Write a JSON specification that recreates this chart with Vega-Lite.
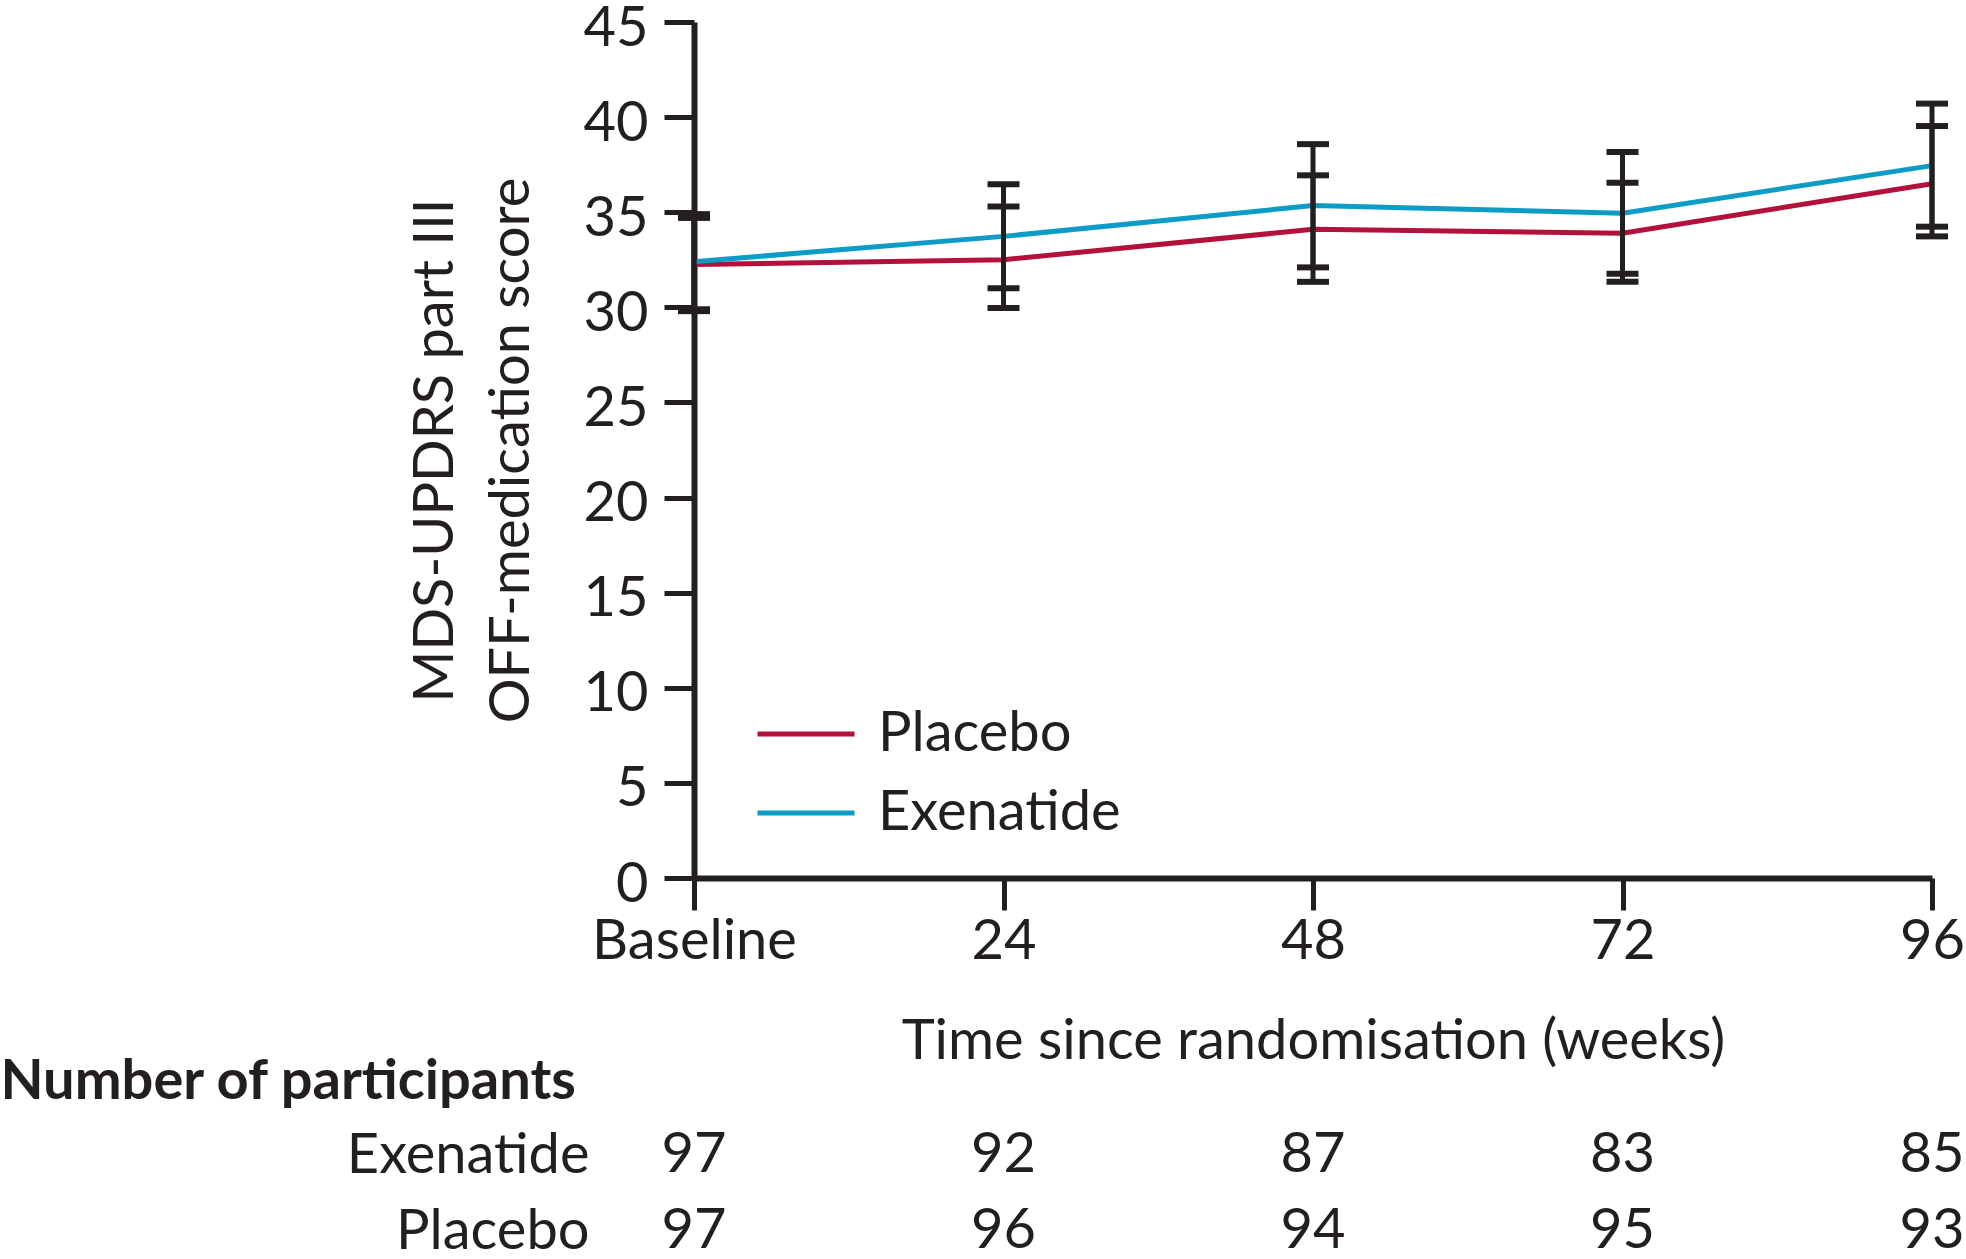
{
  "$schema": "https://vega.github.io/schema/vega-lite/v6.json",
  "padding": {"top": 0, "left": 0, "right": 0, "bottom": 0},
  "background": "white",
  "spacing": 277,
  "bounds": "flush",
  "config": {
    "font": "Lato",
    "view": {"stroke": null},
    "axis": {
      "labelFont": "Lato",
      "titleFont": "Lato",
      "labelFontSize": 56,
      "titleFontSize": 56,
      "labelColor": "#231f20",
      "titleColor": "#231f20",
      "titleFontWeight": "normal",
      "domainColor": "#231f20",
      "tickColor": "#231f20",
      "labelLimit": 0,
      "titleLimit": 0,
      "grid": false
    },
    "legend": {"labelLimit": 0}
  },
  "vconcat": [
    {
      "width": 1238,
      "height": 856,
      "data": {
        "values": [
          {"group": "Placebo", "week": 0, "mean": 32.25, "lo": 29.8, "hi": 34.7},
          {"group": "Placebo", "week": 24, "mean": 32.5, "lo": 29.97, "hi": 35.3},
          {"group": "Placebo", "week": 48, "mean": 34.1, "lo": 31.34, "hi": 36.94},
          {"group": "Placebo", "week": 72, "mean": 33.9, "lo": 31.34, "hi": 36.55},
          {"group": "Placebo", "week": 96, "mean": 36.5, "lo": 33.73, "hi": 39.53},
          {"group": "Exenatide", "week": 0, "mean": 32.4, "lo": 29.9, "hi": 34.9},
          {"group": "Exenatide", "week": 24, "mean": 33.73, "lo": 31.0, "hi": 36.47},
          {"group": "Exenatide", "week": 48, "mean": 35.35, "lo": 32.1, "hi": 38.58},
          {"group": "Exenatide", "week": 72, "mean": 34.95, "lo": 31.76, "hi": 38.17},
          {"group": "Exenatide", "week": 96, "mean": 37.45, "lo": 34.24, "hi": 40.71}
        ]
      },
      "layer": [
        {
          "mark": {"type": "line", "strokeWidth": 5},
          "encoding": {
            "x": {
              "field": "week",
              "type": "quantitative",
              "scale": {"domain": [0, 96], "nice": false, "zero": false},
              "axis": {
                "values": [0, 24, 48, 72, 96],
                "labelExpr": "datum.value == 0 ? 'Baseline' : datum.label",
                "tickSize": 32,
                "tickWidth": 5,
                "domainWidth": 6,
                "labelPadding": 4,
                "labelFlush": false,
                "labelOverlap": false,
                "labelBound": false,
                "title": "Time since randomisation (weeks)",
                "titleX": 619,
                "titleY": 180,
                "titleBaseline": "alphabetic",
                "titleAlign": "center"
              }
            },
            "y": {
              "field": "mean",
              "type": "quantitative",
              "scale": {"domain": [0, 45], "nice": false},
              "axis": {
                "values": [0, 5, 10, 15, 20, 25, 30, 35, 40, 45],
                "tickSize": 30,
                "tickWidth": 5,
                "domainWidth": 6,
                "labelPadding": 16,
                "labelOffset": 6,
                "title": ["MDS-UPDRS part III", "OFF-medication score"],
                "titleAngle": -90,
                "titleX": -242,
                "titleY": 428,
                "titleAlign": "center",
                "titleBaseline": "alphabetic",
                "titleLineHeight": 76
              }
            },
            "color": {
              "field": "group",
              "type": "nominal",
              "scale": {"domain": ["Placebo", "Exenatide"], "range": ["#b3113b", "#0d9cc6"]},
              "legend": {
                "orient": "none",
                "legendX": 61,
                "legendY": 661,
                "title": null,
                "padding": 0,
                "symbolType": "stroke",
                "symbolSize": 9409,
                "symbolStrokeWidth": 5,
                "labelFont": "Lato",
                "labelFontSize": 56,
                "labelColor": "#231f20",
                "labelOffset": 21,
                "labelLimit": 0,
                "rowPadding": -25
              }
            }
          }
        },
        {
          "mark": {
            "type": "errorbar",
            "color": "#231f20",
            "ticks": {"size": 32, "thickness": 6, "color": "#231f20", "opacity": 1},
            "rule": {"strokeWidth": 5, "color": "#231f20", "opacity": 1}
          },
          "encoding": {
            "x": {"field": "week", "type": "quantitative"},
            "y": {"field": "lo", "type": "quantitative", "title": ["MDS-UPDRS part III", "OFF-medication score"]},
            "y2": {"field": "hi"},
            "detail": {"field": "group", "type": "nominal"}
          }
        }
      ]
    },
    {
      "width": 1238,
      "height": 76,
      "data": {
        "values": [
          {"group": "Exenatide", "week": 0, "n": 97},
          {"group": "Exenatide", "week": 24, "n": 92},
          {"group": "Exenatide", "week": 48, "n": 87},
          {"group": "Exenatide", "week": 72, "n": 83},
          {"group": "Exenatide", "week": 96, "n": 85},
          {"group": "Placebo", "week": 0, "n": 97},
          {"group": "Placebo", "week": 24, "n": 96},
          {"group": "Placebo", "week": 48, "n": 94},
          {"group": "Placebo", "week": 72, "n": 95},
          {"group": "Placebo", "week": 96, "n": 93}
        ]
      },
      "mark": {"type": "text", "font": "Lato", "fontSize": 56, "color": "#231f20", "baseline": "middle", "align": "center"},
      "encoding": {
        "x": {"field": "week", "type": "quantitative", "scale": {"domain": [0, 96], "nice": false, "zero": false}, "axis": null},
        "y": {
          "field": "group",
          "type": "nominal",
          "scale": {"type": "point", "domain": ["Exenatide", "Placebo"], "padding": 0},
          "axis": {
            "title": "Number of participants",
            "titleAngle": 0,
            "titleAlign": "left",
            "titleBaseline": "alphabetic",
            "titleX": -694,
            "titleY": -57,
            "titleFontWeight": "bold",
            "domain": false,
            "ticks": false,
            "tickSize": 0,
            "labelLimit": 0,
            "labelPadding": 105
          }
        },
        "text": {"field": "n", "type": "quantitative"}
      }
    }
  ]
}
